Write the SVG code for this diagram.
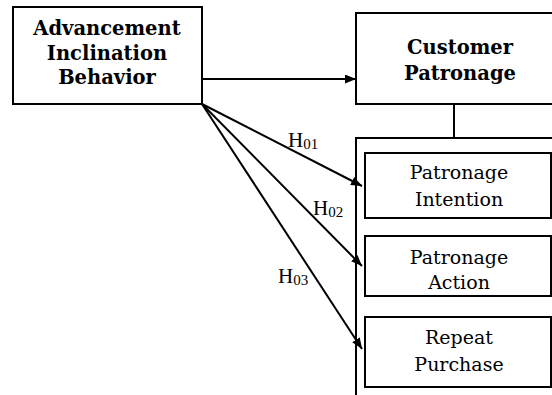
<svg xmlns="http://www.w3.org/2000/svg" width="552" height="395" viewBox="0 0 552 395">
<defs>
<marker id="arr" markerWidth="11" markerHeight="9" refX="11" refY="4.5" orient="auto" markerUnits="userSpaceOnUse">
<path d="M0,0 L11,4.5 L0,9 Z" fill="#000"/>
</marker>
<style>
.box{fill:#fff;stroke:#000;stroke-width:2}
.bt{font-family:"DejaVu Serif",serif;font-weight:bold;font-size:19.5px;text-anchor:middle;fill:#000}
.rt{font-family:"DejaVu Serif",serif;font-size:19px;text-anchor:middle;fill:#000}
.lab{font-family:"Liberation Serif",serif;font-size:21px;fill:#000}
.sub{font-size:15px}
.con{stroke:#000;stroke-width:2;fill:none}
</style>
</defs>
<rect width="552" height="395" fill="#fff"/>
<g id="connectors">
<line class="con" x1="202" y1="79" x2="356" y2="79" marker-end="url(#arr)"/>
<line class="con" x1="454" y1="104" x2="454" y2="138"/>
<line class="con" x1="202" y1="104" x2="362" y2="186" marker-end="url(#arr)"/>
<line class="con" x1="202" y1="104" x2="362" y2="266" marker-end="url(#arr)"/>
<line class="con" x1="202" y1="104" x2="362" y2="349" marker-end="url(#arr)"/>
</g>
<g id="container">
<path class="con" d="M356,400 L356,138 L560,138"/>
</g>
<g id="advancement">
<rect class="box" x="13" y="7" width="189" height="97"/>
<text class="bt" x="107" y="35">Advancement</text>
<text class="bt" x="107" y="60">Inclination</text>
<text class="bt" x="107" y="84">Behavior</text>
</g>
<g id="customer">
<rect class="box" x="356" y="13" width="210" height="91"/>
<text class="bt" x="460" y="54">Customer</text>
<text class="bt" x="460" y="80">Patronage</text>
</g>
<g id="intention">
<rect class="box" x="365" y="153" width="186" height="65"/>
<text class="rt" x="459" y="179">Patronage</text>
<text class="rt" x="459" y="206">Intention</text>
</g>
<g id="action">
<rect class="box" x="365" y="236" width="186" height="60"/>
<text class="rt" x="459" y="264">Patronage</text>
<text class="rt" x="459" y="289">Action</text>
</g>
<g id="repeat">
<rect class="box" x="365" y="317" width="186" height="70"/>
<text class="rt" x="459" y="344">Repeat</text>
<text class="rt" x="459" y="371">Purchase</text>
</g>
<g id="labels">
<text class="lab" x="288" y="147">H<tspan class="sub" dy="2">01</tspan></text>
<text class="lab" x="313" y="215">H<tspan class="sub" dy="2">02</tspan></text>
<text class="lab" x="278" y="283">H<tspan class="sub" dy="2">03</tspan></text>
</g>
</svg>
